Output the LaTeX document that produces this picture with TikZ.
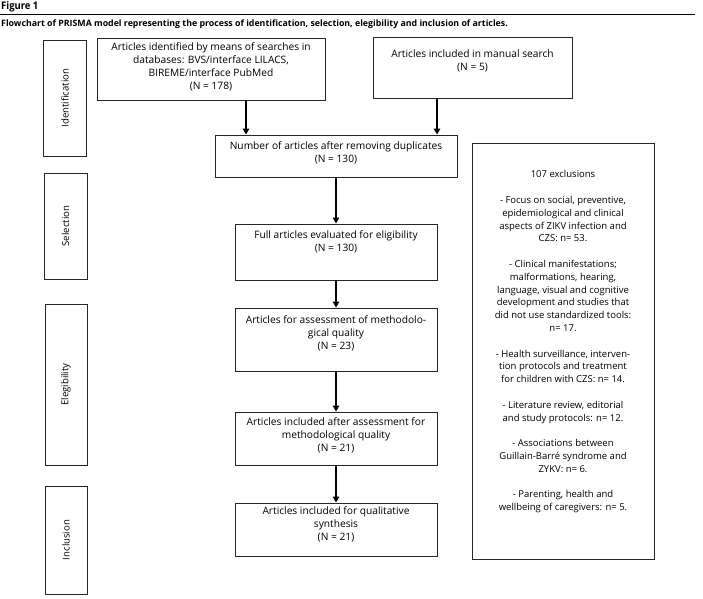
\documentclass[tikz,border=0pt]{standalone}
\usepackage{fontspec}
\setmainfont{Open Sans}
\usetikzlibrary{arrows.meta}
\begin{document}
\begin{tikzpicture}[x=1pt,y=-1pt,
  box/.style={draw=black!85,line width=0.9pt,inner sep=0pt},
  txt/.style={font=\fontsize{10.2}{13}\selectfont,align=center,inner sep=0pt,anchor=north},
  xtxt/.style={font=\fontsize{9.5}{12.8}\selectfont,align=center,inner sep=0pt,anchor=north},
  lab/.style={font=\fontsize{9.6}{12}\selectfont,rotate=90,inner sep=0pt},
  arr/.style={line width=2pt,-{Triangle[length=6pt,width=6.5pt]}}]
\useasboundingbox (0,0) rectangle (703,598);
% header
\node[anchor=west,inner sep=0pt,font=\fontsize{10.5}{12}\selectfont\bfseries] (fig) at (1,7) {\scalebox{0.9}[1]{Figure 1}};
\draw[line width=0.9pt] (0,14.5) -- (695,14.5);
\node[anchor=west,inner sep=0pt,font=\fontsize{8.8}{10}\selectfont\bfseries] (cap) at (1,24.5) {Flowchart of PRISMA model representing the process of identification, selection, elegibility and inclusion of articles.};
% stage labels
\node[box,minimum width=43pt,minimum height=116pt] (L1) at (65,98) {};
\node[lab] (L1t) at (L1.center) {Identification};
\node[box,minimum width=43pt,minimum height=106pt] (L2) at (65.5,226) {};
\node[lab] (L2t) at (L2.center) {Selection};
\node[box,minimum width=42pt,minimum height=161pt] (L3) at (66,384.5) {};
\node[lab] (L3t) at (L3.center) {Elegibility};
\node[box,minimum width=42pt,minimum height=108pt] (L4) at (66,540) {};
\node[lab] (L4t) at (L4.center) {Inclusion};
% flow boxes
\node[box,minimum width=228pt,minimum height=62pt] (A) at (211,69) {};
\node[txt] (At) at ([yshift=-4.5pt]A.north) {Articles identified by means of searches in\\databases: BVS/interface LILACS,\\BIREME/interface PubMed\\(N = 178)};
\node[box,minimum width=199pt,minimum height=61pt] (B) at (472.5,67.5) {};
\node[txt] (Bt) at ([yshift=-12.5pt]B.north) {Articles included in manual search\\(N = 5)};
\node[box,minimum width=242pt,minimum height=42pt] (C) at (336,156) {};
\node[txt] (Ct) at ([yshift=-6.5pt]C.north) {Number of articles after removing duplicates\\(N = 130)};
\node[box,minimum width=202pt,minimum height=56pt] (D) at (336,252) {};
\node[txt] (Dt) at ([yshift=-6.5pt]D.north) {Full articles evaluated for eligibility\\(N = 130)};
\node[box,minimum width=202pt,minimum height=63pt] (E) at (336,339.5) {};
\node[txt] (Et) at ([yshift=-7.5pt]E.north) {Articles for assessment of methodolo-\\gical quality\\(N = 23)};
\node[box,minimum width=202pt,minimum height=53pt] (F) at (336,438.5) {};
\node[txt] (Ft) at ([yshift=-5.5pt]F.north) {Articles included after assessment for\\methodological quality\\(N = 21)};
\node[box,minimum width=202pt,minimum height=53pt] (G) at (336,529.5) {};
\node[txt] (Gt) at ([yshift=-3.5pt]G.north) {Articles included for qualitative\\synthesis\\(N = 21)};
% exclusions
\node[box,minimum width=182pt,minimum height=416pt] (X) at (563,351) {};
\node[xtxt] (Xt) at ([yshift=-28pt]X.north) {107 exclusions\\[12.8pt]
- Focus on social, preventive,\\epidemiological and clinical\\aspects of ZIKV infection and\\CZS: n= 53.\\[12.8pt]
- Clinical manifestations;\\malformations, hearing,\\language, visual and cognitive\\development and studies that\\did not use standardized tools:\\n= 17.\\[12.8pt]
- Health surveillance, interven-\\tion protocols and treatment\\for children with CZS: n= 14.\\[12.8pt]
- Literature review, editorial\\and study protocols: n= 12.\\[12.8pt]
- Associations between\\Guillain-Barré syndrome and\\ZYKV: n= 6.\\[12.8pt]
- Parenting, health and\\wellbeing of caregivers: n= 5.};
% arrows
\draw[arr] ([xshift=35pt]A.south) -- ([xshift=35pt]A.south |- C.north);
\draw[arr] ([xshift=-35.5pt]B.south) -- ([xshift=-35.5pt]B.south |- C.north);
\draw[arr] (C) -- (D);
\draw[arr] (D) -- (E);
\draw[arr] (E) -- (F);
\draw[arr] (F) -- (G);
\end{tikzpicture}
\end{document}
